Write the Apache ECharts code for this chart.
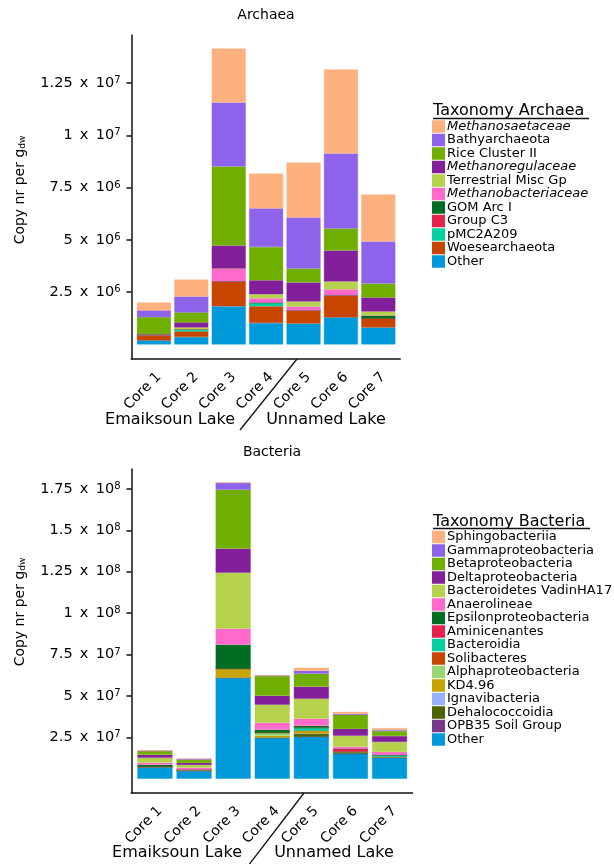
<!DOCTYPE html>
<html>
<head>
<meta charset="utf-8">
<title>Archaea / Bacteria copy numbers</title>
<script src="https://cdn.jsdelivr.net/npm/echarts@6/dist/echarts.min.js"></script>
<style>
    html, body { margin: 0; padding: 0; background: #fff; }
    #chart { width: 614px; height: 864px; }
</style>
</head>
<body>
<div id="chart"></div>
<script>
const cores = ['Core 1', 'Core 2', 'Core 3', 'Core 4', 'Core 5', 'Core 6', 'Core 7'];

// Archaea, copies per g dw in millions, stacked bottom -> top
const archOther        = [0.19, 0.35, 1.82, 1.02, 1.00, 1.29, 0.81];
const archWoese        = [0.24, 0.27, 1.19, 0.80, 0.62, 1.05, 0.43];
const archPMC2A209     = [0, 0.11, 0, 0.175, 0, 0, 0];
const archGroupC3      = [0.064, 0, 0, 0, 0, 0, 0];
const archGOM          = [0, 0, 0, 0, 0, 0, 0.14];
const archMethanobact  = [0, 0, 0.62, 0.21, 0.19, 0.29, 0];
const archTerrestrial  = [0, 0.08, 0, 0.19, 0.24, 0.38, 0.19];
const archMethanoreg   = [0, 0.24, 1.10, 0.67, 0.91, 1.48, 0.67];
const archRice         = [0.81, 0.48, 3.78, 1.59, 0.67, 1.05, 0.67];
const archBathy        = [0.32, 0.76, 3.06, 1.85, 2.44, 3.59, 2.01];
const archMethanosaet  = [0.38, 0.81, 2.58, 1.67, 2.63, 4.02, 2.25];

// Bacteria, copies per g dw in millions, stacked bottom -> top
const bacOther    = [7.25, 4.8, 61.0, 24.8, 25.4, 15.1, 12.7];
const bacOPB35    = [0, 0, 0, 0, 0, 0, 0];
const bacDehalo   = [0, 0, 0, 0, 1.8, 1.2, 0.5];
const bacIgnavi   = [0, 0, 0, 0, 0, 0, 0];
const bacKD496    = [0, 0.6, 5.43, 1.2, 1.8, 0, 0];
const bacAlpha    = [0, 0, 0, 1.8, 0, 0, 0];
const bacSoli     = [0, 0, 0, 0, 0, 0, 0];
const bacBacteroidia = [0, 0, 0, 0, 1.8, 0, 1.2];
const bacAminic   = [0, 0, 0, 0, 0, 1.8, 0];
const bacEpsilon  = [1.2, 0, 14.5, 1.8, 1.2, 0, 0];
const bacAnaero   = [1.2, 1.2, 9.66, 4.2, 4.2, 1.2, 1.8];
const bacVadin    = [3.0, 1.8, 33.8, 10.9, 12.1, 6.64, 6.0];
const bacDelta    = [1.8, 1.2, 14.5, 5.4, 7.25, 4.2, 3.6];
const bacBeta     = [2.4, 1.8, 35.6, 12.1, 7.85, 8.45, 3.0];
const bacGamma    = [0, 0.6, 4.23, 0, 1.8, 0.6, 0.6];
const bacSphingo  = [0, 0, 0, 0, 1.8, 1.2, 1.2];

// y tick labels
const archTicks = [2.5e6, 5e6, 7.5e6, 1e7, 1.25e7];
const bacTicks = [2.5e7, 5e7, 7.5e7, 1e8, 1.25e8, 1.5e8, 1.75e8];

const archaea = [
    ['Other', archOther],
    ['Woesearchaeota', archWoese],
    ['pMC2A209', archPMC2A209],
    ['Group C3', archGroupC3],
    ['GOM Arc I', archGOM],
    ['Methanobacteriaceae', archMethanobact],
    ['Terrestrial Misc Gp', archTerrestrial],
    ['Methanoregulaceae', archMethanoreg],
    ['Rice Cluster II', archRice],
    ['Bathyarchaeota', archBathy],
    ['Methanosaetaceae', archMethanosaet]
];
const bacteria = [
    ['Other', bacOther],
    ['OPB35 Soil Group', bacOPB35],
    ['Dehalococcoidia', bacDehalo],
    ['Ignavibacteria', bacIgnavi],
    ['KD4.96', bacKD496],
    ['Alphaproteobacteria', bacAlpha],
    ['Solibacteres', bacSoli],
    ['Bacteroidia', bacBacteroidia],
    ['Aminicenantes', bacAminic],
    ['Epsilonproteobacteria', bacEpsilon],
    ['Anaerolineae', bacAnaero],
    ['Bacteroidetes VadinHA17', bacVadin],
    ['Deltaproteobacteria', bacDelta],
    ['Betaproteobacteria', bacBeta],
    ['Gammaproteobacteria', bacGamma],
    ['Sphingobacteriia', bacSphingo]
];

const colors = {
    'Methanosaetaceae': '#FDB17F',
    'Bathyarchaeota': '#8C63EA',
    'Rice Cluster II': '#70AF00',
    'Methanoregulaceae': '#841F9B',
    'Terrestrial Misc Gp': '#B6D24C',
    'Methanobacteriaceae': '#FF69CB',
    'GOM Arc I': '#006E22',
    'Group C3': '#E8204C',
    'pMC2A209': '#00D1A0',
    'Woesearchaeota': '#C84500',
    'Other': '#0099D9',
    'Sphingobacteriia': '#FDB17F',
    'Gammaproteobacteria': '#8C63EA',
    'Betaproteobacteria': '#70AF00',
    'Deltaproteobacteria': '#841F9B',
    'Bacteroidetes VadinHA17': '#B6D24C',
    'Anaerolineae': '#FF69CB',
    'Epsilonproteobacteria': '#006E22',
    'Aminicenantes': '#E8204C',
    'Bacteroidia': '#00D1A0',
    'Solibacteres': '#C84500',
    'Alphaproteobacteria': '#98D870',
    'KD4.96': '#C8A400',
    'Ignavibacteria': '#98B0FF',
    'Dehalococcoidia': '#4B6300',
    'OPB35 Soil Group': '#7A3A8C'
};
const italicNames = ['Methanosaetaceae', 'Methanoregulaceae', 'Methanobacteriaceae'];

const FONT = 'DejaVu Sans';
const AXIS_COLOR = '#111';

// panel geometry: ggplot pads a discrete axis by 0.6 of a band on each side,
// echarts by 0.5, so the grid is narrowed and the y axis pushed out by 0.1 band
const AXIS_X = 131.5;
const panels = [
    {top: 35, height: 324, band: 37.4},
    {top: 469, height: 324, band: 39.1}
];

function sci(v) {
    const e = Math.floor(Math.log10(v) + 1e-9);
    const m = +(v / Math.pow(10, e)).toFixed(2);
    return '{n|' + m + '\u2002x\u200210}{s|' + e + '}';
}

function makeSeries(list, stack, idx, width) {
    return list.map(([name, vals]) => ({
        name: name,
        type: 'bar',
        stack: stack,
        xAxisIndex: idx,
        yAxisIndex: idx,
        barWidth: width,
        data: vals.map(v => v * 1e6),
        // thin same-colour border hides hairline seams between stacked pieces
        itemStyle: {color: colors[name], borderColor: colors[name], borderWidth: 0.4},
        emphasis: {disabled: true}
    }));
}

function xAxisOpt(idx) {
    return {
        type: 'category',
        gridIndex: idx,
        data: cores,
        axisLine: {show: false},
        axisTick: {alignWithLabel: true, length: 5, lineStyle: {color: AXIS_COLOR, width: 1.5}},
        axisLabel: {
            interval: 0,
            rotate: 45,
            margin: 11,
            verticalAlign: 'top',
            fontSize: 14,
            fontFamily: FONT,
            color: '#000'
        }
    };
}

function yAxisOpt(idx, min, max, ticks) {
    return {
        type: 'value',
        gridIndex: idx,
        min: min,
        max: max,
        offset: panels[idx].band * 0.1,
        splitLine: {show: false},
        axisLine: {show: true, lineStyle: {color: AXIS_COLOR, width: 1.5}},
        axisTick: {show: true, customValues: ticks, length: 5, lineStyle: {color: AXIS_COLOR, width: 1.5}},
        axisLabel: {
            customValues: ticks,
            formatter: sci,
            margin: 11,
            rich: {
                n: {fontSize: 14.5, fontFamily: FONT, color: '#000'},
                s: {fontSize: 10, fontFamily: FONT, color: '#000', verticalAlign: 'top'}
            }
        }
    };
}

function legendOpt(list, top) {
    return {
        orient: 'vertical',
        left: 432,
        top: top,
        padding: 0,
        icon: 'rect',
        itemWidth: 13,
        itemHeight: 12.5,
        itemGap: 0.5,
        itemStyle: {borderWidth: 0},
        selectedMode: false,
        data: list.map(d => d[0]).reverse(),
        formatter: name => italicNames.includes(name) ? '{i|' + name + '}' : name,
        textStyle: {
            fontSize: 13,
            lineHeight: 13,
            fontFamily: FONT,
            color: '#000',
            padding: [0, 0, 0, -3],
            rich: {i: {fontSize: 13, fontFamily: FONT, fontStyle: 'italic', color: '#000'}}
        }
    };
}

function txt(text, x, y, size, align) {
    return {
        type: 'text',
        x: x,
        y: y,
        style: {text: text, font: size + 'px "' + FONT + '"', fill: '#000', textAlign: align || 'center', textVerticalAlign: 'middle'}
    };
}

function line(x1, y1, x2, y2, w) {
    return {type: 'line', shape: {x1, y1, x2, y2}, style: {stroke: AXIS_COLOR, lineWidth: w}};
}

function yName(x, y) {
    return {
        type: 'text',
        x: x,
        y: y,
        rotation: Math.PI / 2,
        style: {
            text: 'Copy nr per g{sub|dw}',
            font: '14px "' + FONT + '"',
            fill: '#000',
            textAlign: 'center',
            textVerticalAlign: 'middle',
            rich: {sub: {fontSize: 9, fontFamily: FONT, fill: '#000', verticalAlign: 'bottom', padding: [4, 0, 0, 0]}}
        }
    };
}

// x axis line spanning the full padded panel
function xAxisLine(p) {
    const y = p.top + p.height;
    return line(AXIS_X - 0.75, y, AXIS_X + p.band * 7.2, y, 1.5);
}

const chart = echarts.init(document.getElementById('chart'));
chart.setOption({
    animation: false,
    textStyle: {fontFamily: FONT},
    grid: panels.map(p => ({
        left: AXIS_X + p.band * 0.1,
        top: p.top,
        width: p.band * 7,
        height: p.height
    })),
    xAxis: [xAxisOpt(0), xAxisOpt(1)],
    yAxis: [
        yAxisOpt(0, -0.7e6, 14.8e6, archTicks),
        yAxisOpt(1, -8.6e6, 187e6, bacTicks)
    ],
    legend: [legendOpt(archaea, 120), legendOpt(bacteria, 530.5)],
    series: makeSeries(archaea, 'arch', 0, 34).concat(makeSeries(bacteria, 'bac', 1, 35)),
    graphic: [
        xAxisLine(panels[0]),
        xAxisLine(panels[1]),
        txt('Archaea', 266, 15, 14),
        txt('Bacteria', 272, 452, 14),
        yName(20, 190),
        yName(20, 612),
        txt('Taxonomy Archaea', 433, 111, 16, 'left'),
        line(433, 118.5, 589, 118.5, 1.5),
        txt('Taxonomy Bacteria', 433, 522, 16, 'left'),
        line(433, 528.5, 590, 528.5, 1.5),
        txt('Emaiksoun Lake', 170, 420, 16),
        txt('Unnamed Lake', 326, 420, 16),
        line(240, 430, 297, 359, 1.3),
        txt('Emaiksoun Lake', 177, 853, 16),
        txt('Unnamed Lake', 334, 853, 16),
        line(248, 866, 304, 793, 1.3)
    ]
});
</script>
</body>
</html>
